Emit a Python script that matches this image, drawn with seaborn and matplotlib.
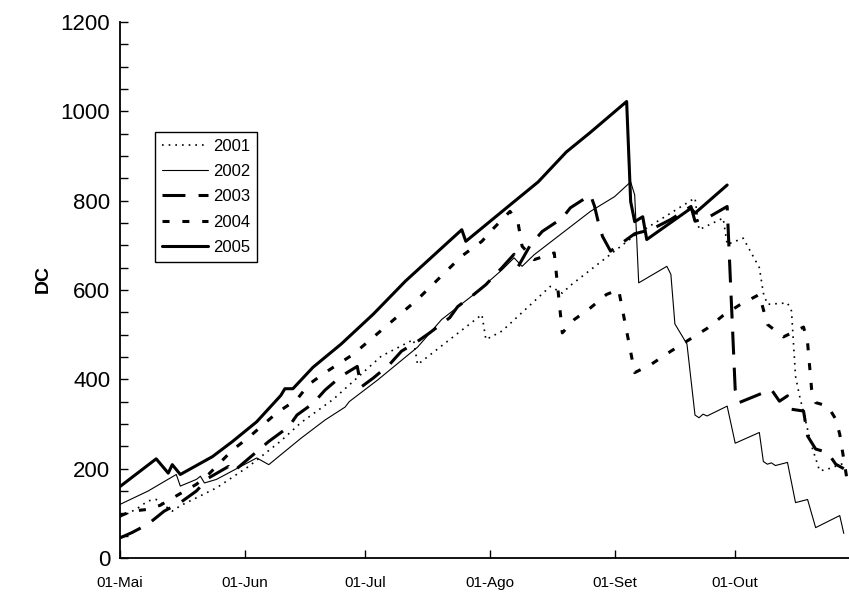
import pandas as pd
import seaborn as sns
import matplotlib.pyplot as plt
from matplotlib.ticker import MultipleLocator

# Drought Code (DC), days counted from 01-Mai
years = ['2001', '2002', '2003', '2004', '2005']

days_2001 = [0, 4, 7, 9, 13, 15, 24, 32, 40, 45, 53, 65, 73, 74, 90, 91, 95, 107, 110, 112,
             128, 143, 144, 150, 151, 155, 159, 160, 161, 166, 167, 168, 169, 171, 172, 174, 176, 180]
dc_2001 = [92, 109, 128, 131, 105, 117, 157, 205, 262, 303, 355, 452, 489, 433, 545, 489, 508, 608, 593, 610,
           722, 806, 735, 761, 702, 716, 650, 593, 568, 571, 553, 407, 363, 288, 251, 195, 199, 212]

days_2002 = [0, 7, 14, 15, 19, 20, 21, 24, 34, 37, 45, 51, 56, 57, 64, 69, 74, 80, 88, 95,
             98, 100, 103, 117, 123, 127, 128, 129, 136, 137, 138, 141, 143, 144, 145, 146, 151, 153,
             159, 160, 161, 162, 163, 166, 168, 171, 173, 179, 180]
dc_2002 = [120, 150, 187, 161, 176, 183, 168, 176, 224, 209, 268, 309, 338, 350, 398, 435, 472, 534, 590, 645,
           672, 653, 679, 776, 809, 842, 813, 616, 653, 635, 524, 479, 320, 314, 322, 318, 340, 257,
           281, 216, 210, 213, 207, 214, 124, 131, 68, 95, 55]

days_2003 = [0, 3, 7, 11, 15, 19, 22, 27, 28, 37, 42, 44, 48, 51, 55, 59, 60, 63, 67, 70,
             74, 77, 82, 84, 88, 91, 95, 98, 99, 102, 105, 110, 112, 117, 118, 119, 120, 122, 126, 128,
             132, 137, 142, 143, 146, 151, 153, 154, 160, 162, 164, 166, 167, 170, 171, 173, 176, 178, 180]
dc_2003 = [45, 57, 76, 105, 124, 150, 179, 205, 192, 261, 294, 320, 346, 376, 407, 429, 383, 403, 433, 463,
           485, 504, 538, 563, 590, 612, 650, 680, 652, 700, 731, 761, 784, 813, 788, 750, 720, 687, 713, 726,
           735, 758, 787, 754, 761, 787, 377, 348, 370, 377, 351, 363, 333, 329, 273, 244, 236, 210, 200]

days_2004 = [0, 3, 7, 10, 14, 19, 22, 28, 32, 39, 44, 47, 51, 58, 74, 85, 90, 93, 97, 99,
             100, 103, 108, 110, 113, 117, 121, 124, 128, 132, 137, 146, 150, 154, 159, 161, 165, 170,
             171, 172, 173, 176, 178, 179, 181]
dc_2004 = [94, 105, 109, 118, 139, 165, 187, 242, 270, 325, 355, 389, 415, 456, 579, 676, 709, 739, 776, 750,
           698, 668, 683, 504, 534, 560, 590, 601, 415, 433, 463, 514, 543, 566, 590, 523, 495, 517,
           482, 378, 348, 340, 311, 277, 165]

days_2005 = [0, 9, 12, 13, 15, 23, 28, 34, 40, 41, 43, 48, 55, 63, 71, 80, 85, 86, 96, 104,
             111, 117, 126, 127, 128, 130, 131, 142, 143, 151]
dc_2005 = [160, 222, 190, 209, 187, 227, 261, 305, 364, 379, 379, 427, 479, 546, 620, 694, 735, 709, 783, 842,
           909, 953, 1022, 798, 753, 764, 713, 783, 772, 835]

month_ticks = ['01-Mai', '01-Jun', '01-Jul', '01-Ago', '01-Set', '01-Out']

season_start = pd.Timestamp('2000-05-01')
series = [('2001', days_2001, dc_2001), ('2002', days_2002, dc_2002), ('2003', days_2003, dc_2003),
          ('2004', days_2004, dc_2004), ('2005', days_2005, dc_2005)]
frames = []
for year, days, dc in series:
    frames.append(pd.DataFrame({'date': season_start + pd.to_timedelta(days, unit='D'),
                                'DC': dc, 'year': year}))
df = pd.concat(frames, ignore_index=True)

sns.set_theme(style='ticks', rc={'axes.edgecolor': 'black', 'text.color': 'black',
                                 'axes.labelcolor': 'black', 'xtick.color': 'black',
                                 'ytick.color': 'black'})
plt.rcParams['font.family'] = ['Liberation Sans', 'DejaVu Sans']

fig = plt.figure(figsize=(8.49, 5.94), dpi=100)
ax = fig.add_axes([120 / 849, 36 / 594, 729 / 849, 536 / 594])

widths = {'2001': 1.2, '2002': 0.8, '2003': 2.2, '2004': 2.2, '2005': 2.2}
dashes = {'2001': (1, 3), '2002': '', '2003': (7.5, 4.3), '2004': (2.3, 4.2), '2005': ''}
sns.lineplot(data=df, x='date', y='DC', style='year', size='year', sizes=widths,
             dashes=dashes, color='black', estimator=None, sort=False, legend=False, ax=ax)

ax.set_ylim(0, 1200)
ax.yaxis.set_major_locator(MultipleLocator(200))
ax.yaxis.set_minor_locator(MultipleLocator(50))
ax.set_xlim(season_start, season_start + pd.Timedelta(days=181.3))
ax.set_xticks(pd.date_range(season_start, periods=6, freq='MS'))
ax.set_xticklabels(month_ticks)

sns.despine(ax=ax)
for side in ['left', 'bottom']:
    ax.spines[side].set_linewidth(1.3)
ax.tick_params(axis='both', which='both', direction='in', width=1)
ax.tick_params(axis='y', which='both', length=6)
ax.tick_params(axis='y', which='major', labelsize=16, pad=7)
ax.tick_params(axis='x', which='major', length=6, labelsize=11, pad=13)
ax.set_xlabel('')
ax.set_ylabel('DC', fontsize=14, fontweight='bold')
ax.yaxis.set_label_coords(-0.094, 0.52)

leg = ax.legend(handles=ax.get_lines()[:5], labels=years, loc='upper left',
                bbox_to_anchor=(155 / 849, 1 - 132 / 594), bbox_transform=fig.transFigure,
                frameon=True, fancybox=False, edgecolor='black', framealpha=1,
                fontsize=12, handlelength=2.8, handletextpad=0.3, labelspacing=0.62,
                borderpad=0.4, borderaxespad=0)
leg.get_frame().set_linewidth(1.0)

fig.savefig('out.png', dpi=100)
